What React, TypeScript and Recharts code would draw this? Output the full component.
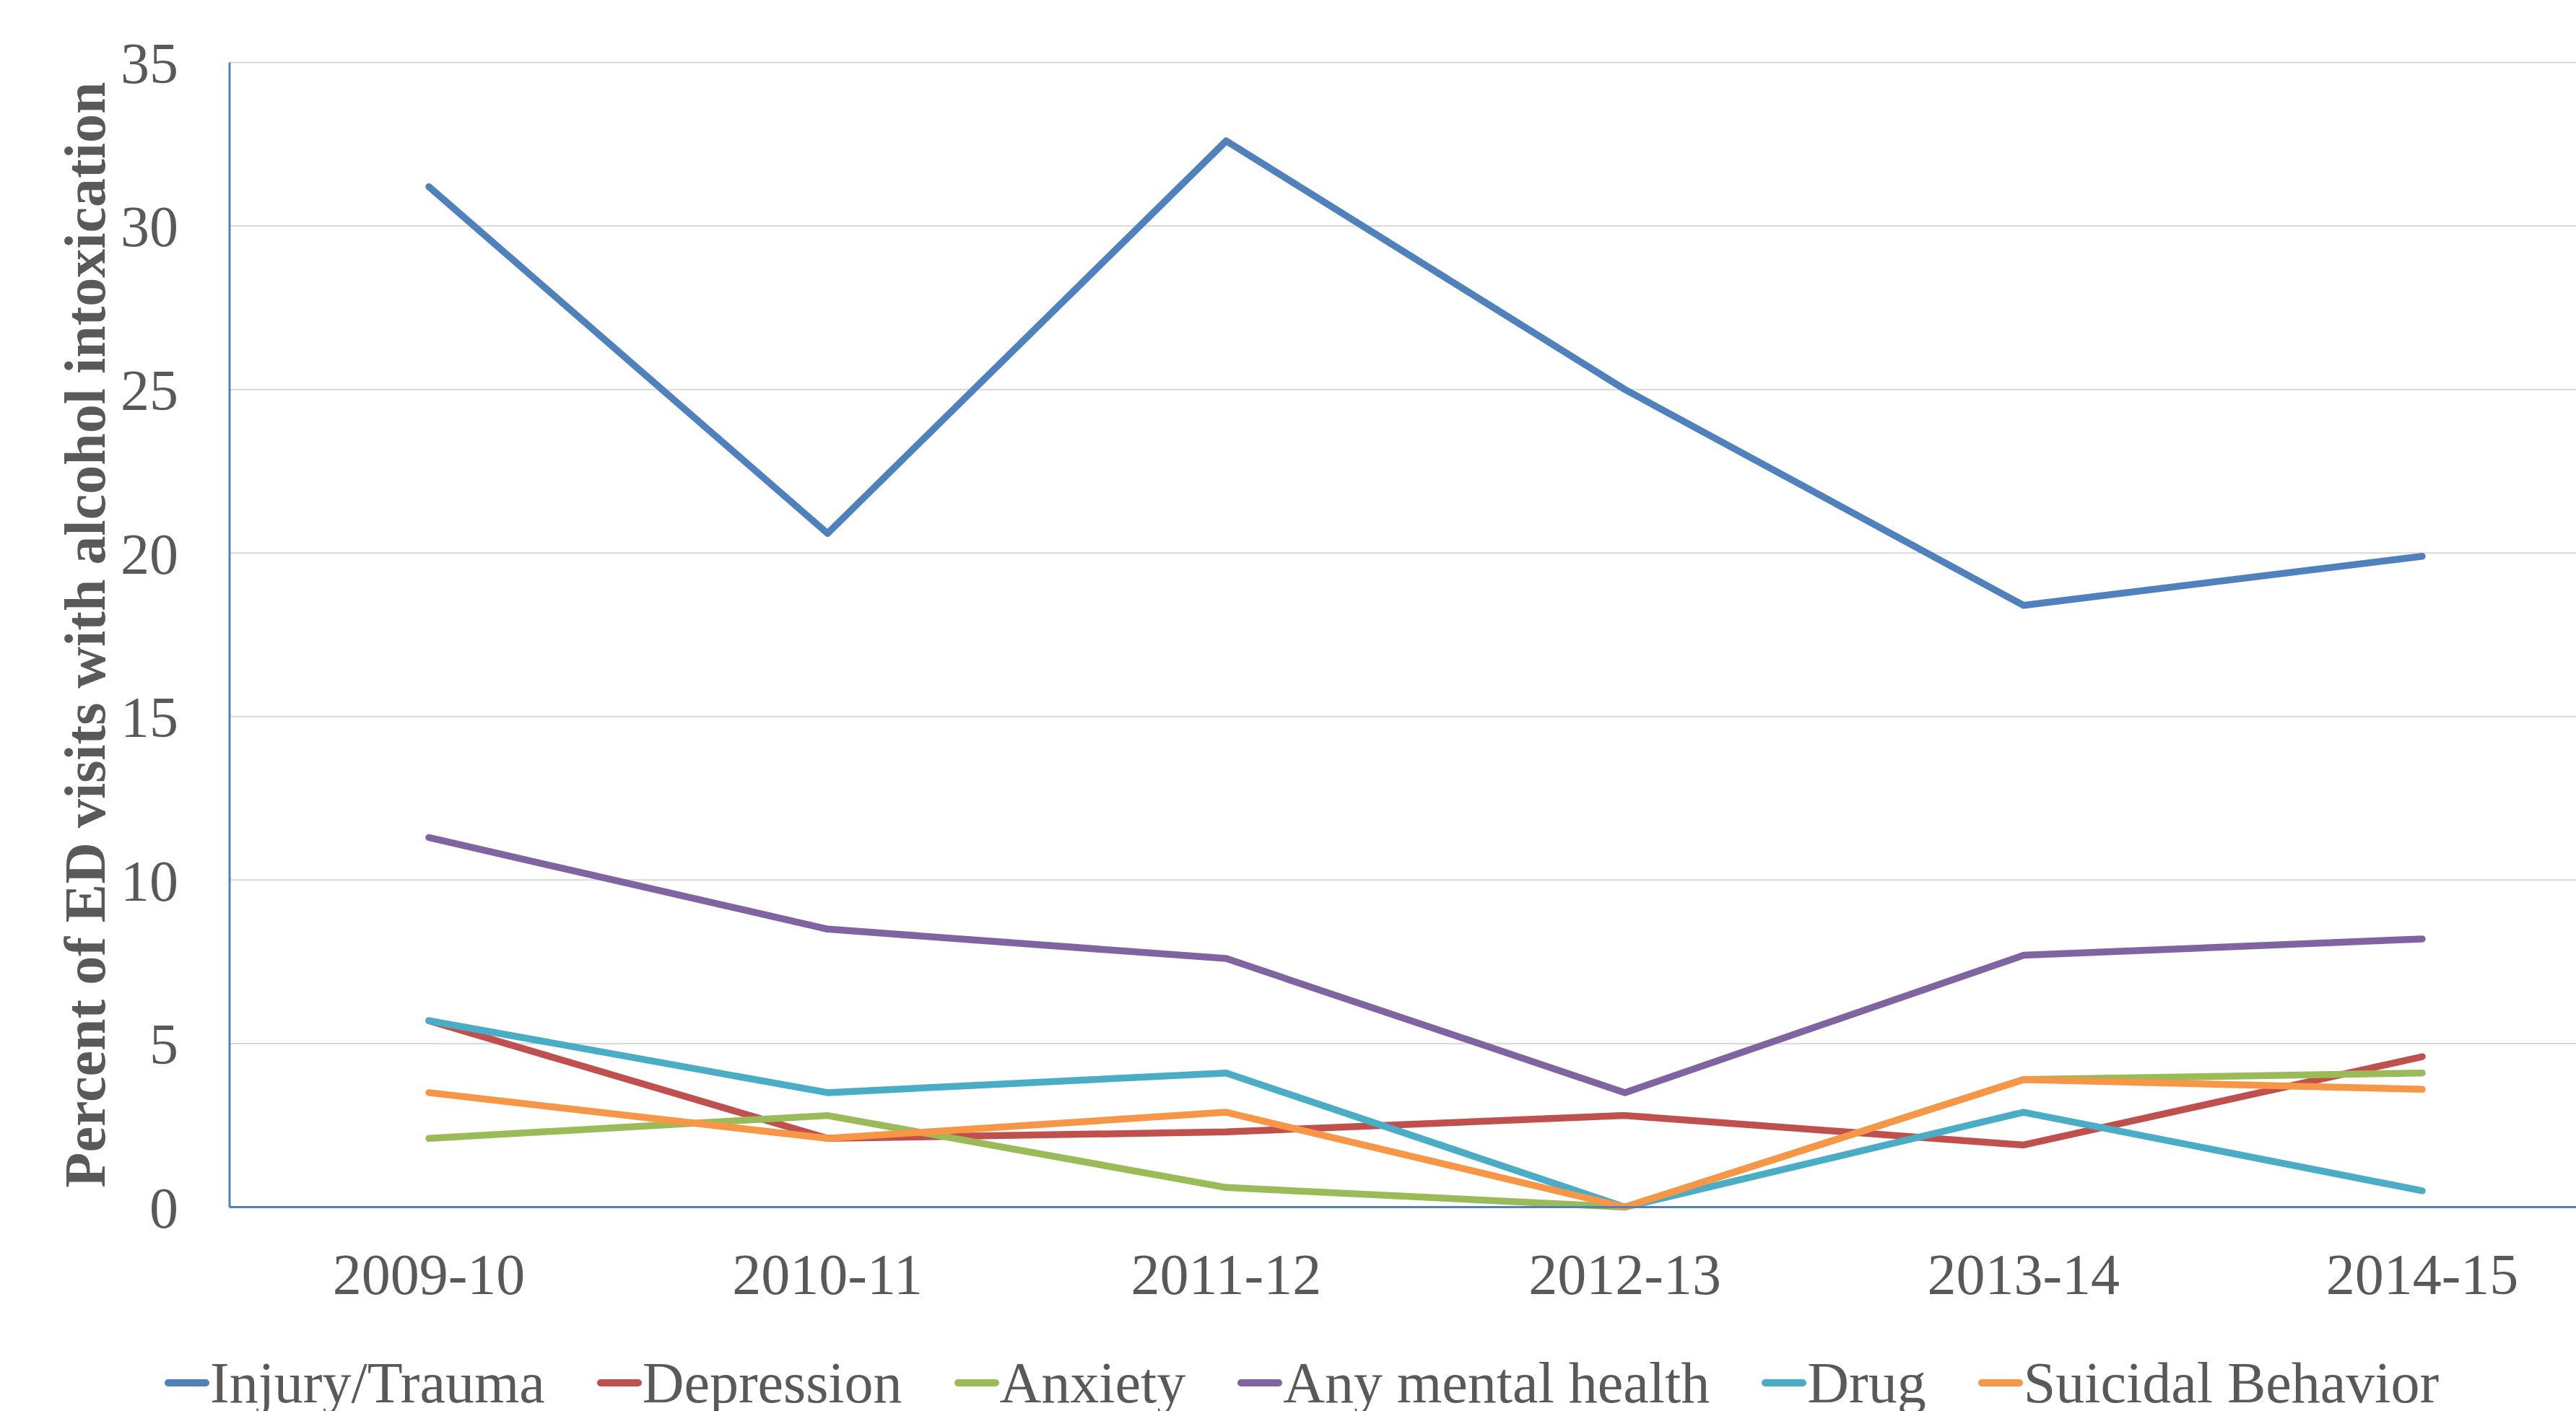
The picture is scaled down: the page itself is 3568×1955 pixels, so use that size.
import { CartesianGrid, Legend, Line, LineChart, XAxis, YAxis } from 'recharts';

const years = ['2009-10', '2010-11', '2011-12', '2012-13', '2013-14', '2014-15'];

const injuryTrauma = [31.2, 20.6, 32.6, 25.0, 18.4, 19.9];
const depression = [5.7, 2.1, 2.3, 2.8, 1.9, 4.6];
const anxiety = [2.1, 2.8, 0.6, 0, 3.9, 4.1];
const anyMentalHealth = [11.3, 8.5, 7.6, 3.5, 7.7, 8.2];
const drug = [5.7, 3.5, 4.1, 0, 2.9, 0.5];
const suicidalBehavior = [3.5, 2.1, 2.9, 0, 3.9, 3.6];

const yTicks = [0, 5, 10, 15, 20, 25, 30, 35];

const series = [
  { key: 'injury', label: 'Injury/Trauma', color: '#4F81BD', values: injuryTrauma },
  { key: 'depression', label: 'Depression', color: '#C0504D', values: depression },
  { key: 'anxiety', label: 'Anxiety', color: '#9BBB59', values: anxiety },
  { key: 'mental', label: 'Any mental health', color: '#8064A2', values: anyMentalHealth },
  { key: 'drug', label: 'Drug', color: '#4BACC6', values: drug },
  { key: 'suicidal', label: 'Suicidal Behavior', color: '#F79646', values: suicidalBehavior },
];

const chartData = years.map((year, i) => {
  const row: Record<string, string | number> = { year };
  series.forEach((s) => {
    row[s.key] = s.values[i];
  });
  return row;
});

const FONT = '"Liberation Serif", "Times New Roman", serif';
const TEXT = '#595959';

const renderYLabel = (props: any) => {
  const vb = props.viewBox || { x: 0, y: 86, width: 318, height: 1586 };
  const x = vb.x + 145;
  const y = vb.y + vb.height / 2;
  return (
    <text
      x={x}
      y={y}
      transform={`rotate(-90 ${x} ${y})`}
      textAnchor="middle"
      fill={TEXT}
      fontFamily={FONT}
      fontSize={80}
      fontWeight="bold"
    >
      Percent of ED visits with alcohol intoxication
    </text>
  );
};

// keep the legend in series order (recharts sorts it by name otherwise)
const renderLegend = (props: any) => {
  const order = series.map((s) => s.label);
  const payload = [...(props.payload || [])].sort(
    (a: any, b: any) => order.indexOf(a.value) - order.indexOf(b.value),
  );
  return (
    <div style={{ display: 'flex', alignItems: 'center', gap: 72, paddingLeft: 228 }}>
      {payload.map((entry: any) => (
        <div key={entry.value} style={{ display: 'flex', alignItems: 'center' }}>
          <svg width={62} height={20} style={{ display: 'block' }}>
            <line x1={5} y1={10} x2={57} y2={10} stroke={entry.color} strokeWidth={10} strokeLinecap="round" />
          </svg>
          <span
            style={{
              fontFamily: FONT,
              fontSize: 80,
              lineHeight: '80px',
              color: TEXT,
              marginLeft: 1,
              whiteSpace: 'nowrap',
            }}
          >
            {entry.value}
          </span>
        </div>
      ))}
    </div>
  );
};

export default function App() {
  return (
    <div
      style={{
        position: 'absolute',
        left: 0,
        top: 0,
        width: 3568,
        height: 1955,
        overflow: 'hidden',
        background: '#ffffff',
      }}
    >
      <LineChart
        width={3632}
        height={1955}
        data={chartData}
        margin={{ top: 86.5, right: 1, left: 0, bottom: 182.5 }}
      >
        <CartesianGrid vertical={false} stroke="#D9D9D9" strokeWidth={2} />
        <XAxis
          dataKey="year"
          height={100}
          padding={{ left: 276, right: 276 }}
          tickSize={0}
          tickMargin={64}
          axisLine={{ stroke: '#4F81BD', strokeWidth: 3 }}
          tick={{ fill: TEXT, fontSize: 80, fontFamily: FONT }}
          interval={0}
        />
        <YAxis
          width={318}
          domain={[0, 35]}
          ticks={yTicks}
          tickSize={0}
          tickMargin={71}
          axisLine={{ stroke: '#4F81BD', strokeWidth: 3 }}
          tick={{ fill: TEXT, fontSize: 80, fontFamily: FONT }}
          label={renderYLabel}
        />
        <Legend
          layout="horizontal"
          verticalAlign="middle"
          align="center"
          content={renderLegend}
          wrapperStyle={{ left: 0, top: 1876, width: 3568 }}
        />
        {series.map((s) => (
          <Line
            key={s.key}
            type="linear"
            dataKey={s.key}
            name={s.label}
            stroke={s.color}
            strokeWidth={9.5}
            strokeLinecap="round"
            strokeLinejoin="round"
            dot={false}
            activeDot={false}
            isAnimationActive={false}
          />
        ))}
      </LineChart>
    </div>
  );
}
